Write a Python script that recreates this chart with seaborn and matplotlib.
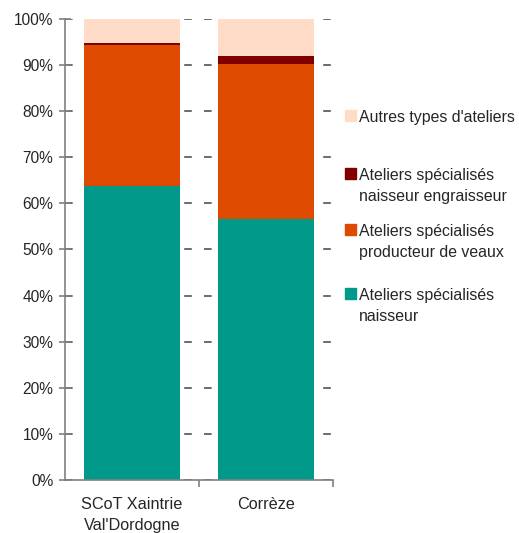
import matplotlib
matplotlib.use("Agg")
import matplotlib.pyplot as plt
import matplotlib.patches as mpatches
import seaborn as sns
import pandas as pd
import numpy as np

zones = ["SCoT Xaintrie\nVal'Dordogne", "Corrèze"]
naisseur = [63.8, 56.6]
producteur = [30.6, 33.6]
engraisseur = [0.3, 1.8]
autres = [5.3, 8.0]

series_names = ["Ateliers spécialisés\nnaisseur",
                "Ateliers spécialisés\nproducteur de veaux",
                "Ateliers spécialisés\nnaisseur engraisseur",
                "Autres types d'ateliers"]
colors = ["#00998A", "#DD4A00", "#800000", "#FFDCC8"]

sns.set_theme(style="white")
plt.rcParams['font.family'] = ['Liberation Sans', 'DejaVu Sans']

df = pd.DataFrame({"zone": zones, "naisseur": naisseur, "producteur": producteur,
                   "engraisseur": engraisseur, "autres": autres})
cols = ["naisseur", "producteur", "engraisseur", "autres"]
cum = df[cols].cumsum(axis=1)
cum["zone"] = df["zone"]

fig = plt.figure(figsize=(5.19, 5.33), dpi=100)
ax = fig.add_axes([65/519, 1-480/533, (333-65)/519, (480-19)/533])

for c, col in reversed(list(zip(cols, colors))):
    sns.barplot(data=cum, x="zone", y=c, color=col, saturation=1, width=0.72,
                ax=ax, order=zones, edgecolor="none", linewidth=0)

ax.set_ylim(0, 100)
ax.set_xlim(-0.5, 1.5)
ax.set_xlabel("")
ax.set_ylabel("")
ax.set_yticks(np.arange(0, 101, 10))
ax.set_yticklabels([f"{v}%" for v in range(0, 101, 10)], fontsize=11.2)
ax.yaxis.grid(True, linestyle=(0, (5, 8)), color="#444444", linewidth=1.1)
ax.set_axisbelow(True)
for s in ["top", "right"]:
    ax.spines[s].set_visible(False)
for s in ["left", "bottom"]:
    ax.spines[s].set_color("#808080")
    ax.spines[s].set_linewidth(1.2)
ax.tick_params(axis="y", direction="inout", length=9, width=1.2, color="#808080",
               labelsize=11.2, pad=4, left=True)
ax.tick_params(axis="x", which="major", length=0, labelsize=11.7, pad=12)
ax.set_xticks([0.5, 1.5], minor=True)
ax.tick_params(axis="x", which="minor", direction="out", length=5, width=1.2,
               color="#808080", bottom=True)
for lab in ax.get_xticklabels():
    lab.set_linespacing(1.55)

# legend (top to bottom)
leg_items = list(zip(series_names, colors))[::-1]
tops = [110, 168, 224, 288]
for (name, col), top in zip(leg_items, tops):
    fig.patches.append(mpatches.Rectangle((345/519, 1-(top+11)/533), 11/519, 11/533,
                                          transform=fig.transFigure, color=col))
    fig.text(359/519, 1-(top)/533, name, ha="left", va="top", fontsize=11.4,
             linespacing=1.5)

fig.savefig("out.png", dpi=100)
